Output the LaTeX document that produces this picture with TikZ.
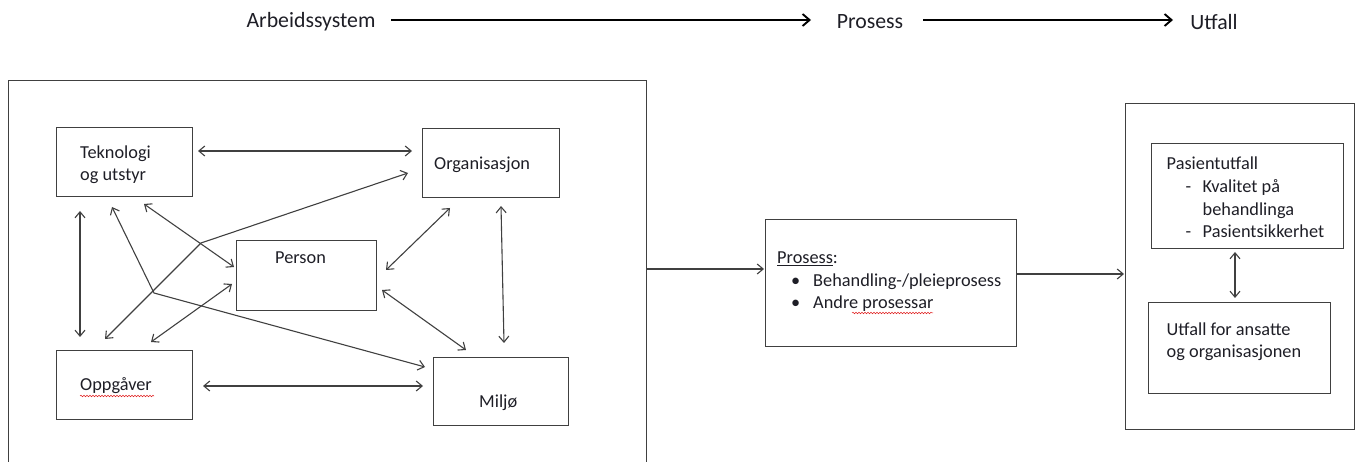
\documentclass[tikz,border=0pt]{standalone}
\usepackage{fontspec}
\setmainfont{Carlito}
\usetikzlibrary{arrows.meta,decorations.pathmorphing}
\definecolor{lc}{HTML}{404040}
\definecolor{tc}{HTML}{1E1E26}
\definecolor{sq}{HTML}{E02020}
\begin{document}
\begin{tikzpicture}[x=1pt,y=-1pt,
  box/.style={draw=lc, line width=1.3pt, inner sep=0pt, anchor=north west},
  lbl/.style={anchor=base west, inner sep=0pt, font=\fontsize{18.3}{22.8}\selectfont, text=tc, align=left},
  toplbl/.style={anchor=center, inner sep=0pt, font=\fontsize{21.8}{24}\selectfont, text=tc},
  con/.style={draw=lc, line width=1.1pt, {Straight Barb[length=6pt,width=10pt]}-{Straight Barb[length=6pt,width=10pt]}},
  oneway/.style={draw=lc, line width=1.1pt, -{Straight Barb[length=6pt,width=10pt]}},
  bigarrow/.style={draw=black, line width=1.9pt, -{Straight Barb[length=7pt,width=12pt]}},
  squiggle/.style={draw=sq, line width=0.5pt, decorate, decoration={snake, amplitude=0.8pt, segment length=3pt}}
]
\useasboundingbox (0,0) rectangle (1358,462);

% top row
\node[toplbl] (tA) at (311,22) {Arbeidssystem};
\node[toplbl] (tP) at (870,22) {Prosess};
\node[toplbl] (tU) at (1214,22) {Utfall};
\coordinate (a1s) at (391,20); \coordinate (a1e) at (811,20);
\coordinate (a2s) at (923,20); \coordinate (a2e) at (1173,20);
\draw[bigarrow] (a1s) -- (a1e);
\draw[bigarrow] (a2s) -- (a2e);

% outer boxes
\node[box, minimum width=638pt, minimum height=420pt] (work) at (8,80) {};
\node[box, minimum width=251pt, minimum height=127pt] (proc) at (764.5,219) {};
\node[box, minimum width=229pt, minimum height=326pt] (outc) at (1125,103) {};

% work system boxes
\node[box, minimum width=136pt, minimum height=69pt] (tek) at (56,127) {};
\node[box, minimum width=137pt, minimum height=69pt] (org) at (422,128) {};
\node[box, minimum width=140pt, minimum height=70pt] (per) at (236,240) {};
\node[box, minimum width=136pt, minimum height=69pt] (opp) at (56,350) {};
\node[box, minimum width=135pt, minimum height=68pt] (mil) at (433,357) {};

% outcome boxes
\node[box, minimum width=192pt, minimum height=105pt] (pas) at (1150.5,143) {};
\node[box, minimum width=182pt, minimum height=91pt] (ans) at (1148,302) {};

% texts (base anchor = baseline of the last line)
\node[lbl] (tekT) at (80,181) {Teknologi\\og utstyr};
\node[lbl] (orgT) at (434,170) {Organisasjon};
\node[lbl] (perT) at (275,264) {Person};
\node[lbl] (oppT) at (80,391) {Oppgåver};
\node[lbl] (milT) at (479,407) {Miljø};
\node[lbl] (procT) at (777,309) {\underline{Prosess}:\\\hspace*{14pt}\makebox[22pt][l]{\textbullet}Behandling-/pleieprosess\\\hspace*{14pt}\makebox[22pt][l]{\textbullet}Andre prosessar};
\node[lbl] (pasT) at (1166.5,238) {Pasientutfall\\\hspace*{19pt}\makebox[17pt][l]{-}Kvalitet på\\\hspace*{36pt}behandlinga\\\hspace*{19pt}\makebox[17pt][l]{-}Pasientsikkerhet};
\node[lbl] (ansT) at (1166.5,358) {Utfall for ansatte\\og organisasjonen};

% spell-check squiggles
\coordinate (sq1s) at (80,396); \coordinate (sq1e) at (154,396);
\coordinate (sq2s) at (852,313); \coordinate (sq2e) at (933,313);
\draw[squiggle] (sq1s) -- (sq1e);
\draw[squiggle] (sq2s) -- (sq2e);

% connector end points
\coordinate (c1a) at (198,151); \coordinate (c1b) at (412,151);
\coordinate (c2a) at (80,211); \coordinate (c2b) at (80,337);
\coordinate (c3a) at (144,204); \coordinate (c3b) at (234,267);
\coordinate (c4a) at (450,208); \coordinate (c4b) at (386,270);
\coordinate (c5a) at (501,206); \coordinate (c5b) at (504,343);
\coordinate (c6a) at (382,290); \coordinate (c6b) at (466,350);
\coordinate (c7a) at (232,284); \coordinate (c7b) at (151,342);
\coordinate (c8a) at (203,386); \coordinate (c8b) at (423,386);
\coordinate (c9a) at (105,339); \coordinate (c9k) at (201,243); \coordinate (c9b) at (408,173);
\coordinate (c10a) at (112,207); \coordinate (c10k) at (154,293); \coordinate (c10b) at (425,367);

\draw[con] (c1a) -- (c1b);
\draw[con] (c2a) -- (c2b);
\draw[con] (c3a) -- (c3b);
\draw[con] (c4a) -- (c4b);
\draw[con] (c5a) -- (c5b);
\draw[con] (c6a) -- (c6b);
\draw[con] (c7a) -- (c7b);
\draw[con] (c8a) -- (c8b);
\draw[con] (c9a) -- (c9k) -- (c9b);
\draw[con] (c10a) -- (c10k) -- (c10b);

% flow between main boxes
\coordinate (f1a) at (646,269); \coordinate (f1b) at (764,269);
\coordinate (f2a) at (1016,274); \coordinate (f2b) at (1124,274);
\draw[oneway] (f1a) -- (f1b);
\draw[oneway] (f2a) -- (f2b);
\coordinate (v1a) at (1235,252); \coordinate (v1b) at (1235,298);
\draw[con] (v1a) -- (v1b);
\end{tikzpicture}
\end{document}
